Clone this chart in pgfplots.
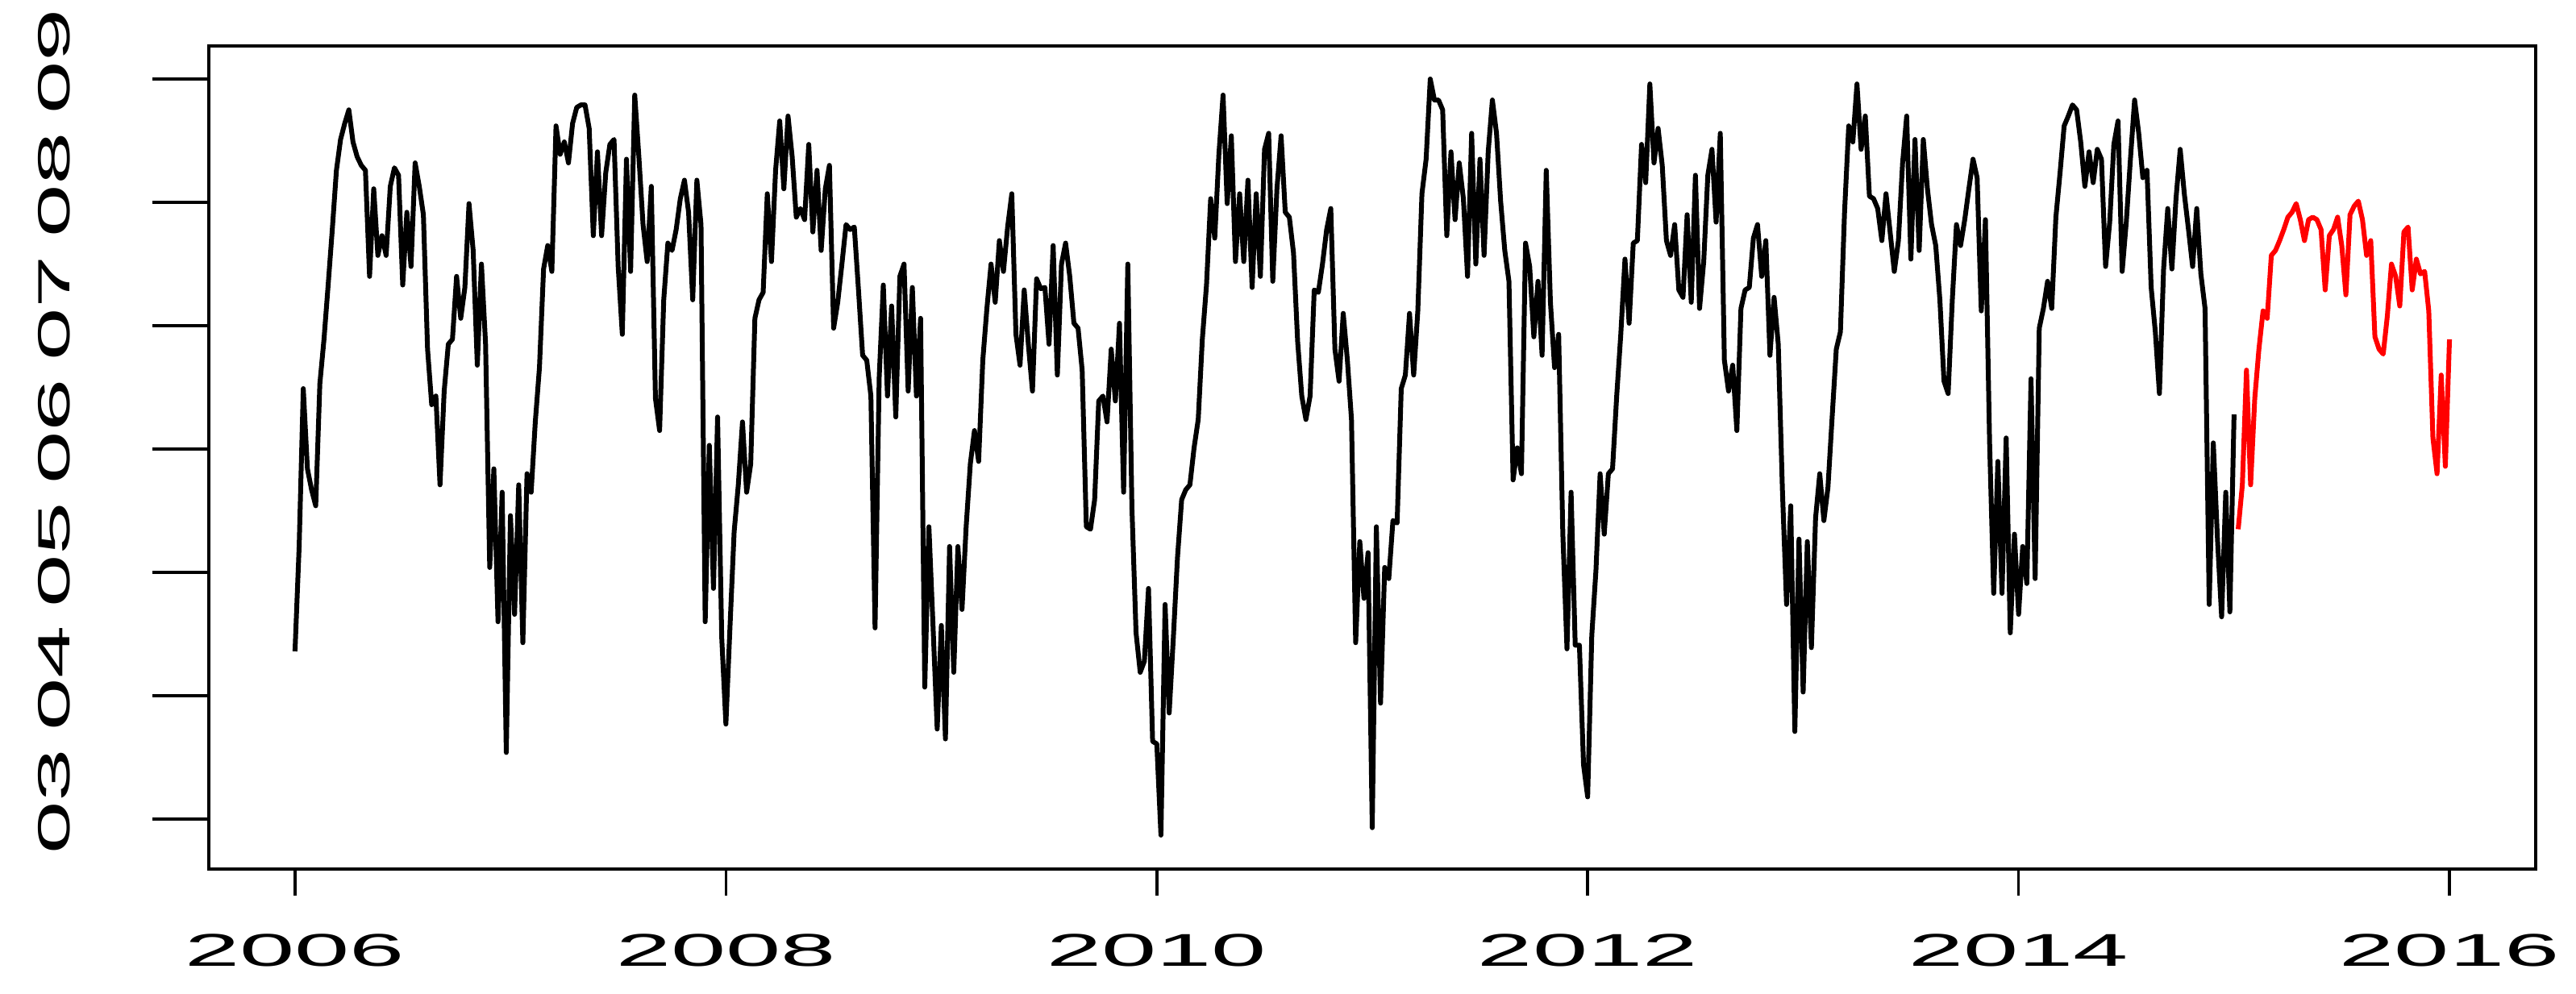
\documentclass[border=0pt]{standalone}
\usepackage{fontspec}
\usepackage{pgfplots}
\pgfplotsset{compat=1.18}
\usepackage{pgfplotstable}
\setmainfont{Liberation Sans}
\newfontfamily\xlabfont[FakeStretch=2.15]{Liberation Sans}
\newfontfamily\ylabfont[FakeStretch=2.1]{Liberation Sans}

% weekly observations 2006.0 -- 2015.0
\pgfplotstableread[row sep=\\]{
v\\
43.6\\52.1\\64.9\\58.4\\56.7\\55.4\\65.3\\68.9\\73.3\\77.8\\
82.6\\85.1\\86.4\\87.5\\84.9\\83.7\\83.0\\82.6\\74.0\\81.1\\
75.7\\77.3\\75.7\\81.3\\82.8\\82.2\\73.3\\79.2\\74.8\\83.2\\
81.3\\79.0\\68.1\\63.6\\64.3\\57.1\\64.7\\68.5\\68.9\\74.0\\
70.6\\73.1\\79.9\\76.1\\66.8\\75.0\\68.5\\50.4\\58.4\\46.0\\
56.5\\35.4\\
54.6\\46.6\\57.1\\44.3\\58.0\\56.5\\62.2\\66.6\\74.6\\76.5\\
74.4\\86.2\\83.9\\84.9\\83.2\\86.4\\87.7\\87.9\\87.9\\86.0\\
77.3\\84.1\\77.3\\82.4\\84.7\\85.1\\74.8\\69.3\\83.5\\74.4\\
88.7\\83.7\\78.2\\75.2\\81.3\\64.1\\61.5\\72.1\\76.7\\76.1\\
77.8\\80.3\\81.8\\79.2\\72.1\\81.8\\78.2\\46.0\\60.3\\48.7\\
62.6\\44.7\\
37.7\\45.7\\53.3\\57.1\\62.2\\56.5\\58.8\\70.6\\72.1\\72.7\\
80.7\\75.2\\82.6\\86.6\\81.1\\87.0\\83.7\\78.8\\79.5\\78.6\\
84.7\\77.6\\82.6\\76.1\\81.1\\83.0\\69.8\\71.9\\75.0\\78.2\\
77.8\\78.0\\72.9\\67.6\\67.2\\64.3\\45.5\\65.8\\73.3\\64.3\\
71.6\\62.6\\74.0\\75.0\\64.7\\73.1\\64.3\\70.6\\40.7\\53.7\\
45.7\\37.3\\
45.7\\36.5\\52.1\\41.9\\52.1\\47.0\\53.7\\58.8\\61.5\\59.0\\
67.2\\71.4\\75.0\\71.9\\76.9\\74.4\\78.0\\80.7\\69.3\\66.8\\
72.9\\68.5\\64.7\\73.8\\73.0\\73.1\\68.5\\76.5\\66.0\\75.0\\
76.7\\74.0\\70.2\\69.8\\66.4\\53.7\\53.5\\55.9\\63.9\\64.3\\
62.2\\68.1\\63.9\\70.2\\56.5\\75.0\\55.2\\45.1\\41.9\\42.8\\
48.7\\36.3\\
36.1\\28.7\\47.4\\38.6\\44.7\\51.2\\55.9\\56.7\\57.1\\60.1\\
62.4\\68.9\\73.3\\80.3\\77.1\\83.9\\88.7\\79.9\\85.4\\75.2\\
80.7\\75.2\\81.8\\73.1\\80.7\\74.0\\84.3\\85.6\\73.6\\81.1\\
85.4\\79.2\\78.8\\75.9\\68.7\\64.3\\62.4\\64.3\\72.9\\72.7\\
75.0\\77.8\\79.5\\68.1\\65.5\\71.0\\67.2\\62.4\\44.3\\52.5\\
47.9\\51.6\\
29.3\\53.7\\39.4\\50.4\\49.5\\54.2\\54.0\\64.9\\66.0\\71.0\\
66.0\\71.2\\80.7\\83.5\\90.0\\88.3\\88.3\\87.5\\77.3\\84.1\\
78.6\\83.2\\80.3\\74.0\\85.6\\75.0\\83.5\\75.7\\84.1\\88.3\\
85.6\\80.1\\76.1\\73.6\\57.5\\60.1\\58.0\\76.7\\74.8\\69.1\\
73.6\\67.6\\82.6\\71.9\\66.6\\69.3\\53.1\\43.8\\56.5\\44.1\\
44.1\\34.4\\
31.8\\44.9\\50.2\\58.0\\53.1\\58.0\\58.4\\64.3\\69.3\\75.4\\
70.2\\76.7\\76.9\\84.7\\81.6\\89.6\\83.2\\86.0\\83.0\\76.9\\
75.7\\78.2\\72.9\\72.3\\79.0\\71.9\\82.2\\71.4\\75.2\\82.2\\
84.3\\78.4\\85.6\\67.2\\64.7\\66.8\\61.5\\71.4\\72.9\\73.1\\
77.1\\78.2\\74.0\\76.9\\67.6\\72.3\\68.5\\56.7\\47.4\\55.4\\
37.1\\52.7\\
40.3\\52.5\\43.9\\54.4\\58.0\\54.2\\56.9\\62.6\\68.1\\69.5\\
79.2\\86.2\\84.9\\89.6\\84.3\\87.0\\80.5\\80.3\\79.5\\76.9\\
80.7\\77.6\\74.4\\76.9\\83.2\\87.0\\75.4\\85.1\\76.1\\85.1\\
81.1\\78.2\\76.5\\72.1\\65.5\\64.5\\72.1\\78.2\\76.5\\78.6\\
81.1\\83.5\\82.0\\71.2\\78.6\\60.5\\48.3\\59.0\\48.3\\60.9\\
45.1\\53.1\\
46.6\\52.1\\49.1\\65.7\\49.5\\69.8\\71.4\\73.6\\71.4\\78.8\\
82.4\\86.2\\87.0\\87.9\\87.5\\84.9\\81.3\\84.1\\81.6\\84.3\\
83.5\\74.8\\78.4\\84.7\\86.6\\74.4\\78.4\\83.5\\88.3\\85.6\\
82.0\\82.6\\73.1\\69.5\\64.5\\74.6\\79.5\\74.6\\80.3\\84.3\\
80.7\\77.8\\74.8\\79.5\\74.2\\71.4\\47.4\\60.5\\52.7\\46.4\\
56.5\\46.8\\
62.8\\
}\blackdata

% forecast 2015 -- 2016
\pgfplotstableread[row sep=\\]{
v\\
53.5\\57.1\\66.4\\57.1\\64.1\\68.1\\71.2\\70.6\\75.7\\76.1\\
76.9\\77.8\\78.8\\79.2\\79.9\\78.6\\76.9\\78.6\\78.8\\78.6\\
77.8\\72.9\\77.3\\77.8\\78.8\\76.5\\72.5\\79.0\\79.7\\80.1\\
78.6\\75.7\\76.9\\69.1\\68.1\\67.7\\70.8\\75.0\\74.0\\71.6\\
77.6\\78.0\\72.9\\75.4\\74.2\\74.4\\71.2\\60.9\\58.0\\66.0\\
58.6\\68.9\\
}\reddata

\begin{document}
\begin{tikzpicture}
\begin{axis}[
  at={(0,0)}, anchor=south west,
  scale only axis, width=288.6pt, height=102.1pt,
  xmin=2005.6, xmax=2016.4, ymin=25.95, ymax=92.68,
  axis line style={line width=0.4pt, black},
  xtick={2006,2008,2010,2012,2014,2016},
  xticklabels={2006,2008,2010,2012,2014,2016},
  ytick={30,40,50,60,70,80,90},
  yticklabels={03,04,05,06,07,08,09},
  tick pos=left, tick align=outside,
  major tick length=3.3pt,
  xtick style={line width=0.35pt, black},
  ytick style={/pgfplots/major tick length=7pt, line width=0.35pt, black},
  xticklabel style={font=\xlabfont\fontsize{5.7}{6}\selectfont, inner sep=0pt, anchor=north, yshift=-4.6pt},
  yticklabel style={font=\ylabfont\fontsize{5.6}{6}\selectfont, inner sep=0pt, xshift=-13.7pt, yshift=2.2pt, rotate=90, anchor=south},
  no markers,
]
\addplot[black, line width=0.6pt, line join=round] table[x expr=2006+\coordindex/52, y=v]{\blackdata};
\addplot[red, line width=0.6pt, line join=round] table[x expr=2015+(\coordindex+1)/52, y=v]{\reddata};
\end{axis}
\path[use as bounding box] (-25.9pt,-15.5pt) rectangle (293.6pt,107.8pt);
\end{tikzpicture}
\end{document}
